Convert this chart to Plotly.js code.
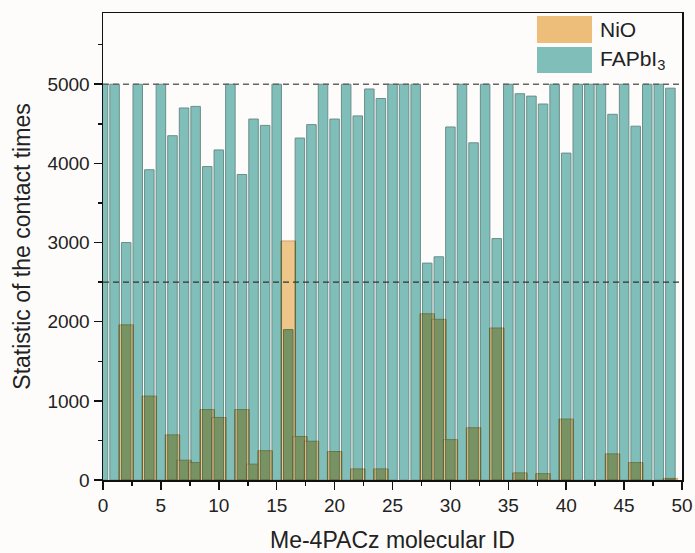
<!DOCTYPE html>
<html>
<head>
<meta charset="utf-8">
<script src="https://cdn.plot.ly/plotly-3.0.1.min.js"></script>
<style>
  html, body { margin: 0; padding: 0; background: #fdfcfa; }
  #chart { width: 695px; height: 553px; }
</style>
</head>
<body>
<div id="chart"></div>
<script>
// Molecule IDs and contact statistics
const moleculeIds = [0,1,2,3,4,5,6,7,8,9,10,11,12,13,14,15,16,17,18,19,20,21,22,23,24,25,26,27,28,29,30,31,32,33,34,35,36,37,38,39,40,41,42,43,44,45,46,47,48,49];
const fapbi3Counts = [5000,5000,3000,5000,3920,5000,4350,4700,4720,3960,4170,5000,3860,4560,4480,5000,1900,4320,4490,5000,4560,5000,4600,4940,4820,5000,5000,5000,2740,2820,4460,5000,4260,5000,3050,5000,4880,4850,4750,5000,4130,5000,5000,5000,4620,5000,4470,5000,5000,4950];
const nioIds = [2,4,6,7,8,9,10,12,13,14,16,17,18,20,22,24,28,29,30,32,34,36,38,40,44,46,49];
const nioCounts = [1960,1060,570,250,220,890,790,890,200,370,3020,550,490,360,140,140,2100,2030,510,660,1920,90,80,770,330,220,20];
const refLevels = [5000, 2500];
const seriesNames = ['NiO', 'FAPbI<sub>3</sub>'];
const xTitle = 'Me-4PACz molecular ID';
const yTitle = 'Statistic of the contact times';

const TEAL = '#80beb9';
const ORANGE = '#ecbe7a';
const FONT = 'Liberation Sans, Arial, sans-serif';

const traces = [
  {
    type: 'bar', name: 'FAPbI3', x: moleculeIds, y: fapbi3Counts, width: 0.82,
    marker: { color: TEAL, line: { color: '#6b8e8a', width: 1 } },
    showlegend: false, hoverinfo: 'x+y'
  },
  {
    type: 'bar', name: 'NiO', x: nioIds, y: nioCounts, width: 1.25,
    marker: { color: ORANGE, line: { color: '#c89552', width: 1 } },
    showlegend: false, hoverinfo: 'x+y'
  }
];

// plot area in px (for paper-coordinate legend)
const L = 103, R = 682, T = 13, B = 480;
const px = v => (v - L) / (R - L);
const py = v => 1 - (v - T) / (B - T);

const shapes = refLevels.map((lv, i) => ({
  type: 'line', xref: 'paper', x0: 0, x1: 1, yref: 'y', y0: lv, y1: lv,
  layer: 'above', line: { color: i === 0 ? '#666' : '#333', width: 1.4, dash: '6px,4px' }
}));
// legend swatches
shapes.push({ type: 'rect', xref: 'paper', yref: 'paper', x0: px(537), x1: px(592), y0: py(43), y1: py(16), fillcolor: ORANGE, line: { width: 0 }, layer: 'above' });
shapes.push({ type: 'rect', xref: 'paper', yref: 'paper', x0: px(537), x1: px(592), y0: py(73), y1: py(47), fillcolor: TEAL, line: { width: 0 }, layer: 'above' });

const annotations = [
  { xref: 'paper', yref: 'paper', x: px(598), y: py(29.5), xanchor: 'left', yanchor: 'middle', text: seriesNames[0], showarrow: false, font: { family: FONT, size: 21, color: '#222' } },
  { xref: 'paper', yref: 'paper', x: px(598), y: py(60), xanchor: 'left', yanchor: 'middle', text: seriesNames[1], showarrow: false, font: { family: FONT, size: 21, color: '#222' } }
];

const layout = {
  width: 695, height: 553,
  margin: { l: L, r: 695 - R, t: T, b: 553 - B },
  paper_bgcolor: '#fdfcfa', plot_bgcolor: '#fdfcfa',
  barmode: 'overlay', showlegend: false,
  font: { family: FONT, color: '#222' },
  xaxis: {
    range: [0, 50], dtick: 5, tick0: 0, ticks: 'outside', ticklen: 8, tickwidth: 1.5, tickcolor: '#111',
    minor: { dtick: 2.5, ticks: 'outside', ticklen: 4, tickwidth: 1.5, tickcolor: '#111' },
    showline: true, mirror: true, linecolor: '#111', linewidth: 1.5,
    showgrid: false, zeroline: false,
    tickfont: { family: FONT, size: 19, color: '#222' },
    title: { text: xTitle, font: { family: FONT, size: 23, color: '#222' }, standoff: 16 }
  },
  yaxis: {
    range: [0, 5900], dtick: 1000, tick0: 0, ticks: 'outside', ticklen: 8, tickwidth: 1.5, tickcolor: '#111',
    minor: { dtick: 500, ticks: 'outside', ticklen: 4, tickwidth: 1.5, tickcolor: '#111' },
    showline: true, mirror: true, linecolor: '#111', linewidth: 1.5,
    showgrid: false, zeroline: false,
    tickfont: { family: FONT, size: 19, color: '#222' },
    title: { text: yTitle, font: { family: FONT, size: 23, color: '#222' }, standoff: 10 }
  },
  shapes: shapes,
  annotations: annotations
};

Plotly.newPlot('chart', traces, layout, { staticPlot: true, displayModeBar: false }).then(gd => {
  const tr = gd.querySelectorAll('.barlayer .trace');
  if (tr.length > 1) {
    tr[1].style.mixBlendMode = 'multiply';
    tr[1].style.opacity = '0.88';
  }
});
</script>
</body>
</html>
